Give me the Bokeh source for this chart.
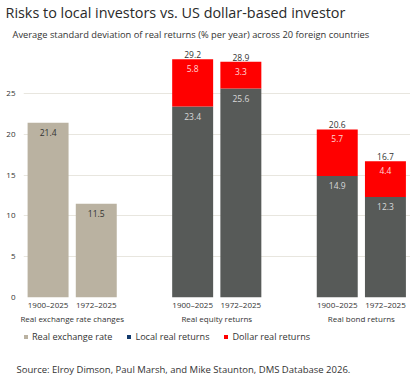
from bokeh.plotting import figure
from bokeh.layouts import column
from bokeh.models import (ColumnDataSource, FixedTicker, LinearAxis, Legend, LegendItem,
                          Title, Range1d)
from bokeh.core.properties import value
from bokeh.embed import file_html
from bokeh.resources import INLINE

# ---------------- data ----------------
periods = ["1900–2025", "1972–2025"]
groups = ["Real exchange rate changes", "Real equity returns", "Real bond returns"]
fx_values = [21.4, 11.5]            # real exchange rate changes
equity_local = [23.4, 25.6]         # local real returns
equity_dollar = [29.2, 28.9]        # dollar real returns (total)
bond_local = [14.9, 12.3]
bond_dollar = [20.6, 16.7]
y_ticks = [0, 5, 10, 15, 20, 25]

title_text = "Risks to local investors vs. US dollar-based investor"
subtitle_text = "Average standard deviation of real returns (% per year) across 20 foreign countries"
source_text = "Source: Elroy Dimson, Paul Marsh, and Mike Staunton, DMS Database 2026."
legend_labels = ["Real exchange rate", "Local real returns", "Dollar real returns"]

# ---------------- style ----------------
FONT = "Open Sans"
BEIGE = "#bab2a1"
DARK = "#575a58"
RED = "#ff0000"
NAVY = "#123a6c"
TXT = "#333333"
GRID = "#e8e6df"
W = 0.85
WIDTH = 410

# bar positions: group slot * 3 + period slot
def xs(g):
    return [g * 3 + i for i in range(len(periods))]

fx_src = ColumnDataSource(dict(x=xs(0), top=fx_values, lab=[f"{v:.1f}" for v in fx_values]))
loc_src = ColumnDataSource(dict(x=xs(1) + xs(2), top=equity_local + bond_local,
                                lab=[f"{v:.1f}" for v in equity_local + bond_local]))
dol_tot = equity_dollar + bond_dollar
dol_bot = equity_local + bond_local
dol_src = ColumnDataSource(dict(x=xs(1) + xs(2), bottom=dol_bot, top=dol_tot,
                                lab=[f"{t - b:.1f}" for t, b in zip(dol_tot, dol_bot)],
                                tot=[f"{t:.1f}" for t in dol_tot]))

p = figure(width=WIDTH, height=326, output_backend="svg", toolbar_location=None,
           x_range=Range1d(-0.51, 7.52), y_range=Range1d(0, 31), title=None,
           min_border_left=23, min_border_right=0, min_border_top=0, min_border_bottom=29)
p.outline_line_color = None
p.background_fill_color = "white"
p.border_fill_color = "white"

r_fx = p.vbar(x="x", top="top", bottom=0, width=W, source=fx_src, fill_color=BEIGE, line_color=None)
r_loc = p.vbar(x="x", top="top", bottom=0, width=W, source=loc_src, fill_color=DARK, line_color=None)
r_dol = p.vbar(x="x", top="top", bottom="bottom", width=W, source=dol_src, fill_color=RED, line_color=None)

# value labels
LBL = "8.5px"
p.text(x="x", y="top", text="lab", source=fx_src, text_font=value(FONT), text_font_size=LBL,
       text_color=TXT, text_align="center", text_baseline="top", y_offset=6)
p.text(x="x", y="top", text="lab", source=loc_src, text_font=value(FONT), text_font_size=LBL,
       text_color="#d8d8d8", text_align="center", text_baseline="top", y_offset=6)
p.text(x="x", y="top", text="lab", source=dol_src, text_font=value(FONT), text_font_size=LBL,
       text_color="#ffd6d6", text_align="center", text_baseline="top", y_offset=6)
p.text(x="x", y="top", text="tot", source=dol_src, text_font=value(FONT), text_font_size=LBL,
       text_color=TXT, text_align="center", text_baseline="bottom", y_offset=-1)

# y axis
p.yaxis.ticker = FixedTicker(ticks=y_ticks)
p.yaxis.axis_line_color = None
p.yaxis.major_tick_line_color = None
p.yaxis.minor_tick_line_color = None
p.yaxis.major_tick_out = 0
p.yaxis.major_tick_in = 0
p.yaxis.minor_tick_out = 0
p.yaxis.major_label_text_font = FONT
p.yaxis.major_label_text_font_size = "8px"
p.yaxis.major_label_text_color = TXT
p.yaxis.major_label_standoff = 8
p.ygrid.ticker = FixedTicker(ticks=y_ticks)
p.ygrid.grid_line_color = GRID
p.xgrid.grid_line_color = None

# x axis: periods
bar_x = xs(0) + xs(1) + xs(2)
p.xaxis.ticker = FixedTicker(ticks=bar_x)
p.xaxis.major_label_overrides = {x: periods[i % 2] for i, x in enumerate(bar_x)}
p.xaxis.axis_line_color = None
p.xaxis.major_tick_line_color = None
p.xaxis.minor_tick_line_color = None
p.xaxis.major_tick_out = 0
p.xaxis.major_tick_in = 0
p.xaxis.minor_tick_out = 0
p.xaxis.major_label_text_font = FONT
p.xaxis.major_label_text_font_size = "8px"
p.xaxis.major_label_text_color = TXT
p.xaxis.major_label_standoff = 1

# x axis: groups
gx = [g * 3 + 0.5 for g in range(len(groups))]
ax2 = LinearAxis(ticker=FixedTicker(ticks=gx),
                 major_label_overrides={x: groups[i] for i, x in enumerate(gx)},
                 axis_line_color=None, major_tick_line_color=None, minor_tick_line_color=None,
                 major_tick_out=0, major_tick_in=0, minor_tick_out=0,
                 major_label_text_font=FONT, major_label_text_font_size="8px",
                 major_label_text_color=TXT, major_label_standoff=0)
p.add_layout(ax2, "below")

p.add_layout(Title(text=subtitle_text, align="left", text_font=FONT, text_font_size="9.3px",
                   text_font_style="normal", text_color=TXT, standoff=8, offset=-11), "above")
p.add_layout(Title(text=title_text, align="left", text_font=FONT, text_font_size="14.4px",
                   text_font_style="normal", text_color="#2a2a2a", standoff=0, offset=-18), "above")

# ---------------- legend + source strip ----------------
H2 = 49
p2 = figure(width=WIDTH, height=H2, output_backend="svg", toolbar_location=None,
            x_range=Range1d(0, 1), y_range=Range1d(0, 1), title=None,
            min_border=0, x_axis_location=None, y_axis_location=None)
p2.outline_line_color = None
p2.grid.visible = False
lg_fx = p2.vbar(x="x", top="top", width=W, source=fx_src, fill_color=BEIGE, line_color=None, visible=False)
lg_loc = p2.vbar(x="x", top="top", width=W, source=loc_src, fill_color=NAVY, line_color=None, visible=False)
lg_dol = p2.vbar(x="x", top="top", bottom="bottom", width=W, source=dol_src, fill_color=RED,
                 line_color=None, visible=False)

legend = Legend(items=[LegendItem(label=value(legend_labels[0]), renderers=[lg_fx]),
                       LegendItem(label=value(legend_labels[1]), renderers=[lg_loc]),
                       LegendItem(label=value(legend_labels[2]), renderers=[lg_dol])],
                orientation="horizontal", location=(0, 17),
                glyph_width=5, glyph_height=5, label_standoff=4, spacing=14,
                label_text_font=FONT, label_text_font_size="9.1px", label_text_color=TXT,
                label_height=12, padding=0, margin=0,
                inactive_fill_alpha=0, click_policy="none",
                border_line_color=None, background_fill_alpha=0)
p2.add_layout(legend, "center")

p2.add_layout(Title(text=source_text, align="left", text_font=FONT, text_font_size="9.5px",
                    text_font_style="normal", text_color=TXT, standoff=0, offset=-7), "below")

open("out.html", "w").write(file_html(column(p, p2, spacing=0), INLINE))
